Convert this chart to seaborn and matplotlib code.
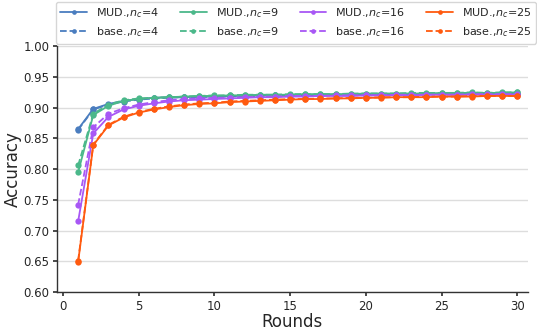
import matplotlib
matplotlib.use("Agg")
import matplotlib.pyplot as plt
import seaborn as sns
import pandas as pd

rounds = list(range(1, 31))

mud_4 = [0.865, 0.898, 0.906, 0.911, 0.914, 0.916, 0.917, 0.917, 0.918, 0.918,
         0.919, 0.919, 0.920, 0.920, 0.920, 0.920, 0.921, 0.921, 0.921, 0.921,
         0.921, 0.921, 0.922, 0.922, 0.922, 0.922, 0.922, 0.922, 0.922, 0.922]
base_4 = [0.864, 0.897, 0.905, 0.910, 0.913, 0.915, 0.916, 0.917, 0.917, 0.918,
          0.918, 0.919, 0.919, 0.920, 0.920, 0.920, 0.920, 0.921, 0.921, 0.921,
          0.921, 0.921, 0.921, 0.922, 0.922, 0.922, 0.922, 0.922, 0.922, 0.922]
mud_9 = [0.795, 0.888, 0.903, 0.911, 0.914, 0.916, 0.917, 0.918, 0.919, 0.919,
         0.920, 0.920, 0.921, 0.921, 0.921, 0.922, 0.922, 0.922, 0.922, 0.923,
         0.923, 0.923, 0.923, 0.923, 0.924, 0.924, 0.924, 0.924, 0.924, 0.925]
base_9 = [0.806, 0.890, 0.905, 0.912, 0.915, 0.916, 0.917, 0.918, 0.919, 0.920,
          0.920, 0.921, 0.921, 0.921, 0.922, 0.922, 0.922, 0.922, 0.923, 0.923,
          0.923, 0.923, 0.924, 0.924, 0.924, 0.924, 0.925, 0.924, 0.925, 0.925]
mud_16 = [0.715, 0.858, 0.885, 0.897, 0.903, 0.907, 0.910, 0.912, 0.913, 0.914,
          0.915, 0.916, 0.917, 0.917, 0.918, 0.918, 0.919, 0.919, 0.919, 0.920,
          0.920, 0.920, 0.920, 0.921, 0.921, 0.921, 0.921, 0.921, 0.921, 0.921]
base_16 = [0.742, 0.868, 0.890, 0.899, 0.905, 0.909, 0.912, 0.914, 0.915, 0.916,
           0.916, 0.917, 0.918, 0.918, 0.919, 0.919, 0.919, 0.920, 0.920, 0.920,
           0.920, 0.921, 0.921, 0.921, 0.921, 0.921, 0.922, 0.922, 0.922, 0.922]
mud_25 = [0.649, 0.839, 0.871, 0.884, 0.892, 0.897, 0.901, 0.904, 0.906, 0.907,
          0.909, 0.910, 0.911, 0.912, 0.913, 0.914, 0.914, 0.915, 0.915, 0.916,
          0.916, 0.917, 0.917, 0.917, 0.918, 0.918, 0.918, 0.919, 0.919, 0.919]
base_25 = [0.651, 0.840, 0.872, 0.885, 0.893, 0.898, 0.902, 0.905, 0.907, 0.908,
           0.910, 0.911, 0.912, 0.913, 0.914, 0.914, 0.915, 0.915, 0.916, 0.916,
           0.917, 0.917, 0.917, 0.918, 0.918, 0.918, 0.919, 0.919, 0.919, 0.919]

series = [
    ("MUD.,$n_c$=4", mud_4, "#4a7dbf", "-"),
    ("base.,$n_c$=4", base_4, "#4a7dbf", "--"),
    ("MUD.,$n_c$=9", mud_9, "#4bb88a", "-"),
    ("base.,$n_c$=9", base_9, "#4bb88a", "--"),
    ("MUD.,$n_c$=16", mud_16, "#a857f5", "-"),
    ("base.,$n_c$=16", base_16, "#a857f5", "--"),
    ("MUD.,$n_c$=25", mud_25, "#ff5a0f", "-"),
    ("base.,$n_c$=25", base_25, "#ff5a0f", "--"),
]

sns.set_theme(style="whitegrid")
plt.rcParams['font.family'] = ['DejaVu Sans']

fig = plt.figure(figsize=(5.37, 3.32), dpi=100)
ax = fig.add_axes([0.106, 0.12, 0.877, 0.741])

for label, vals, color, ls in series:
    df = pd.DataFrame({"Rounds": rounds, "Accuracy": vals})
    sns.lineplot(data=df, x="Rounds", y="Accuracy", ax=ax, color=color,
                 linestyle=ls, marker="o", markersize=4.5, markeredgewidth=0,
                 linewidth=1.3, label=label)

ax.set_ylim(0.60, 1.00)
ax.set_xlim(-0.4, 30.7)
ax.set_yticks([0.60, 0.65, 0.70, 0.75, 0.80, 0.85, 0.90, 0.95, 1.00])
ax.set_xticks([0, 5, 10, 15, 20, 25, 30])
ax.tick_params(axis='both', labelsize=8.5, length=3, pad=2.5, color='#333333',
               bottom=True, left=True)
ax.grid(axis='x', visible=False)
ax.grid(axis='y', color='#dddddd', linewidth=1)
for s in ["top", "right"]:
    ax.spines[s].set_visible(False)
for s in ["left", "bottom"]:
    ax.spines[s].set_color('#333333')
    ax.spines[s].set_linewidth(1)
ax.set_xlabel("Rounds", fontsize=12, labelpad=0)
ax.set_ylabel("Accuracy", fontsize=12, labelpad=1)

handles, labels = ax.get_legend_handles_labels()
if ax.get_legend() is not None:
    ax.get_legend().remove()
fig.legend(handles, labels, ncol=4, loc='upper left',
           bbox_to_anchor=(56 / 537, 1 - 1.5 / 332), bbox_transform=fig.transFigure,
           fontsize=8, frameon=True, columnspacing=1.9, handlelength=2.4,
           markerscale=0.75, borderaxespad=0, edgecolor='#cccccc')

fig.savefig("out.png", dpi=100)
